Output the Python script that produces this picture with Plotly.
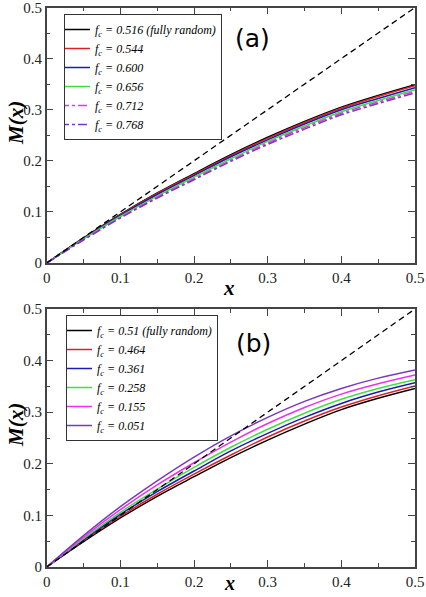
import plotly.graph_objects as go

x_vals = [0, 0.05, 0.1, 0.15, 0.2, 0.25, 0.3, 0.35, 0.4, 0.45, 0.5]

# Panel (a)
labels_a = ["0.516 (fully random)", "0.544", "0.600", "0.656", "0.712", "0.768"]
a_0516 = [0, 0.049, 0.095, 0.137, 0.175, 0.212, 0.246, 0.277, 0.305, 0.328, 0.349]
a_0544 = [0, 0.048, 0.094, 0.136, 0.173, 0.210, 0.244, 0.275, 0.303, 0.326, 0.347]
a_0600 = [0, 0.048, 0.093, 0.134, 0.171, 0.208, 0.241, 0.272, 0.300, 0.322, 0.343]
a_0656 = [0, 0.047, 0.091, 0.131, 0.168, 0.204, 0.238, 0.268, 0.296, 0.318, 0.339]
a_0712 = [0, 0.046, 0.089, 0.129, 0.165, 0.201, 0.235, 0.265, 0.293, 0.315, 0.336]
a_0768 = [0, 0.045, 0.088, 0.127, 0.163, 0.199, 0.232, 0.262, 0.290, 0.312, 0.333]

# Panel (b)
labels_b = ["0.51 (fully random)", "0.464", "0.361", "0.258", "0.155", "0.051"]
b_0510 = [0, 0.049, 0.095, 0.137, 0.175, 0.212, 0.246, 0.277, 0.305, 0.327, 0.346]
b_0464 = [0, 0.051, 0.098, 0.141, 0.180, 0.217, 0.252, 0.283, 0.310, 0.332, 0.351]
b_0361 = [0, 0.053, 0.102, 0.146, 0.186, 0.225, 0.259, 0.290, 0.317, 0.339, 0.357]
b_0258 = [0, 0.055, 0.106, 0.151, 0.193, 0.232, 0.267, 0.298, 0.325, 0.346, 0.363]
b_0155 = [0, 0.058, 0.111, 0.159, 0.202, 0.242, 0.278, 0.309, 0.335, 0.355, 0.372]
b_0051 = [0, 0.061, 0.117, 0.167, 0.213, 0.254, 0.290, 0.321, 0.346, 0.366, 0.382]

diag = [0, 0.5]

tick_vals = [0, 0.1, 0.2, 0.3, 0.4, 0.5]
tick_text = ["0", "0.1", "0.2", "0.3", "0.4", "0.5"]

colors = ["#000000", "#e02020", "#1a1ab8", "#3ee03e", "#ee30ee", "#7a38c0"]
dash_a = ["solid", "solid", "solid", "solid", "dashdot", "dashdot"]

SERIF = "Liberation Serif, Times New Roman, serif"

fig = go.Figure()

series_a = [a_0516, a_0544, a_0600, a_0656, a_0712, a_0768]
series_b = [b_0510, b_0464, b_0361, b_0258, b_0155, b_0051]

for lab, ys, c, d in zip(labels_a, series_a, colors, dash_a):
    fig.add_trace(go.Scatter(
        x=x_vals, y=ys, mode="lines", line=dict(color=c, width=1.5, dash=d, shape="spline"),
        name="<i>f<sub>c</sub> = " + lab + "</i>", xaxis="x", yaxis="y", legend="legend"))
fig.add_trace(go.Scatter(x=diag, y=diag, mode="lines", line=dict(color="black", width=1.3, dash="6px,4px"),
                         showlegend=False, xaxis="x", yaxis="y"))

for lab, ys, c in zip(labels_b, series_b, colors):
    fig.add_trace(go.Scatter(
        x=x_vals, y=ys, mode="lines", line=dict(color=c, width=1.5, shape="spline"),
        name="<i>f<sub>c</sub> = " + lab + "</i>", xaxis="x2", yaxis="y2", legend="legend2"))
fig.add_trace(go.Scatter(x=diag, y=diag, mode="lines", line=dict(color="black", width=1.3, dash="6px,4px"),
                         showlegend=False, xaxis="x2", yaxis="y2"))

W, H = 426, 597


def px(p):
    return p / W


def py(p):
    return 1 - p / H


xdom = [px(46.7), px(415)]
ydom_a = [py(263), py(7.5)]
ydom_b = [py(567), py(309)]

tickfont = dict(family=SERIF, size=15, color="#222")
ax_common = dict(
    range=[0, 0.5], tickmode="array", tickvals=tick_vals, ticktext=tick_text,
    ticks="inside", ticklen=7, tickwidth=1.2, tickcolor="#444",
    minor=dict(ticks="inside", ticklen=4, dtick=0.05, tickwidth=1.2, tickcolor="#444", showgrid=False),
    showline=True, linecolor="#444", linewidth=1.5, mirror="ticks",
    showgrid=False, zeroline=False, tickfont=tickfont, fixedrange=True, automargin=False,
    ticklabeloverflow="allow",
)

legend_common = dict(
    bgcolor="white", bordercolor="#333", borderwidth=1,
    font=dict(family=SERIF, size=12, color="black"),
    xanchor="left", yanchor="top", xref="paper", yref="paper",
    itemwidth=30, tracegroupgap=0, itemclick=False, indentation=-10,
)


def label(text, x, y, size, family, angle=0, yanchor="middle"):
    return dict(text=text, x=px(x), y=py(y), xref="paper", yref="paper", showarrow=False,
                xanchor="center", yanchor=yanchor, textangle=angle,
                font=dict(family=family, size=size, color="black"))


fig.update_layout(
    template="none",
    width=W, height=H, margin=dict(l=0, r=0, t=0, b=0, autoexpand=False),
    paper_bgcolor="white", plot_bgcolor="white",
    xaxis=dict(domain=xdom, anchor="y", **ax_common),
    yaxis=dict(domain=ydom_a, anchor="x", **ax_common),
    xaxis2=dict(domain=xdom, anchor="y2", **ax_common),
    yaxis2=dict(domain=ydom_b, anchor="x2", **ax_common),
    legend=dict(x=px(64), y=py(14), **legend_common),
    legend2=dict(x=px(66), y=py(315), **legend_common),
    showlegend=True,
    annotations=[
        label("(a)", 252, 38, 25, "DejaVu Sans"),
        label("(b)", 254, 343, 25, "DejaVu Sans"),
        label("<b><i>M(x)</i></b>", 16, 123, 21, SERIF, -90),
        label("<b><i>M(x)</i></b>", 16, 425, 21, SERIF, -90),
        label("<b><i>x</i></b>", 229, 288, 21, SERIF),
        label("<b><i>x</i></b>", 229, 596, 20, SERIF, yanchor="bottom"),
    ],
)

# remove the default 8px page margin so the figure sits at the window's top-left corner
fig.write_html("out.html", config={"displayModeBar": False},
               post_script="document.body.style.margin='0px';")
